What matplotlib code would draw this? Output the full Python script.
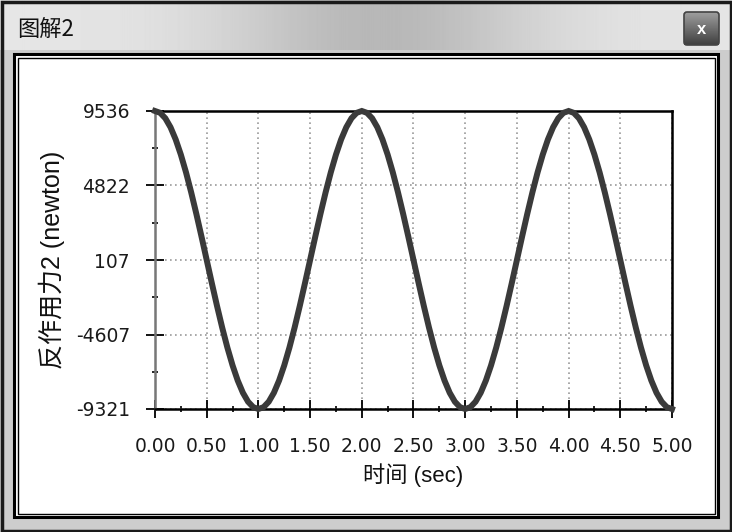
import matplotlib
matplotlib.use("Agg")
import matplotlib.pyplot as plt
import numpy as np
from matplotlib.patches import Rectangle, FancyBboxPatch
from matplotlib.ticker import FixedLocator, MultipleLocator

plt.rcParams['font.family'] = ['Liberation Sans', 'Noto Sans CJK SC', 'DejaVu Sans']

# ---- data ----
time_s = [round(0.05 * i, 2) for i in range(101)]
force_n = [9536, 9420, 9075, 8508, 7735, 6774, 5650, 4388, 3021, 1582, 107,
           -1367, -2806, -4173, -5435, -6559, -7520, -8293, -8860, -9205, -9321,
           -9205, -8860, -8293, -7520, -6559, -5435, -4173, -2806, -1367, 107,
           1582, 3021, 4388, 5650, 6774, 7735, 8508, 9075, 9420, 9536,
           9420, 9075, 8508, 7735, 6774, 5650, 4388, 3021, 1582, 107,
           -1367, -2806, -4173, -5435, -6559, -7520, -8293, -8860, -9205, -9321,
           -9205, -8860, -8293, -7520, -6559, -5435, -4173, -2806, -1367, 107,
           1582, 3021, 4388, 5650, 6774, 7735, 8508, 9075, 9420, 9536,
           9420, 9075, 8508, 7735, 6774, 5650, 4388, 3021, 1582, 107,
           -1367, -2806, -4173, -5435, -6559, -7520, -8293, -8860, -9205, -9321]
y_ticks = [9536, 4822, 107, -4607, -9321]
x_ticks = [0.0, 0.5, 1.0, 1.5, 2.0, 2.5, 3.0, 3.5, 4.0, 4.5, 5.0]
window_title = "图解2"
x_label = "时间 (sec)"
y_label = "反作用力2 (newton)"

W, H = 732, 532
fig = plt.figure(figsize=(W / 100, H / 100), dpi=100)

# ---- window chrome (pixel coordinates) ----
bg = fig.add_axes([0, 0, 1, 1], zorder=0)
bg.set_xlim(0, W)
bg.set_ylim(H, 0)
bg.axis('off')
xs = np.linspace(0, 1, 400)
grad = 0.90 - 0.18 * np.exp(-((xs - 0.52) / 0.22) ** 2)
img = np.tile(grad, (50, 1))
bg.imshow(img, cmap='gray', vmin=0, vmax=1, extent=(0, W, 50, 0), aspect='auto', zorder=1)
bg.add_patch(Rectangle((0, 50), W, H - 50, facecolor='#cdcdcd', edgecolor='none', zorder=1))
bg.add_patch(Rectangle((1.5, 1.5), W - 3, H - 3, facecolor='none', edgecolor='#1a1a1a', lw=2.5, zorder=2))
bg.add_patch(Rectangle((14, 54), 704, 463, facecolor='white', edgecolor='black', lw=2.2, zorder=2))
bg.add_patch(Rectangle((17.5, 58), 697, 455.5, facecolor='none', edgecolor='black', lw=1.0, zorder=3))
bg.text(17, 29, window_title, fontsize=16, va='center', ha='left', color='#111111',
        family=['Noto Sans CJK SC', 'DejaVu Sans'], zorder=4)
btn_grad = np.linspace(0.62, 0.25, 40).reshape(-1, 1)
bg.imshow(np.tile(btn_grad, (1, 10)), cmap='gray', vmin=0, vmax=1,
          extent=(684, 719, 45, 12), aspect='auto', zorder=4)
bg.add_patch(FancyBboxPatch((684, 12), 35, 33, boxstyle='round,pad=0,rounding_size=3',
                            facecolor='none', edgecolor='#444444', lw=1.2, zorder=5))
bg.text(701.5, 29, 'x', fontsize=12, fontweight='bold', color='white', ha='center', va='center', zorder=6)

# ---- plot ----
left, right, top, bottom = 155, 672, 111, 409
ax = fig.add_axes([left / W, (H - bottom) / H, (right - left) / W, (bottom - top) / H], zorder=2)
ax.set_facecolor('white')
ax.plot(time_s, force_n, color='#3a3a3a', lw=4.3, solid_joinstyle='miter', clip_on=False, zorder=3)
ax.set_xlim(0, 5)
ax.set_ylim(-9321, 9536)

ax.xaxis.set_major_locator(FixedLocator(x_ticks))
ax.xaxis.set_minor_locator(MultipleLocator(0.25))
ax.yaxis.set_major_locator(FixedLocator(y_ticks))
ax.yaxis.set_minor_locator(FixedLocator([(y_ticks[i] + y_ticks[i + 1]) / 2 for i in range(4)]))
ax.set_xticklabels([f"{v:.2f}" for v in x_ticks])
ax.set_yticklabels([str(v) for v in y_ticks])
for lab in ax.get_xticklabels() + ax.get_yticklabels():
    lab.set_family('DejaVu Sans')

ax.tick_params(which='major', direction='inout', length=13, width=1.3, color='black',
               labelsize=13.5, labelcolor='#1a1a1a')
ax.tick_params(which='minor', direction='inout', length=5, width=1.2, color='black')
ax.tick_params(axis='x', which='major', pad=14)
ax.tick_params(axis='y', which='major', pad=11.5)

ax.grid(True, which='major', color='#9a9a9a', linestyle=(0, (1, 2)), lw=1.2)
for side in ['top', 'right', 'bottom']:
    ax.spines[side].set_color('black')
    ax.spines[side].set_linewidth(1.8)
ax.spines['left'].set_color('#777777')
ax.spines['left'].set_linewidth(1.8)

ax.set_xlabel(x_label, fontsize=16, labelpad=5, color='#111111')
ax.set_ylabel(y_label, fontsize=18, labelpad=8, color='#111111')

fig.savefig('out.png', dpi=100)
